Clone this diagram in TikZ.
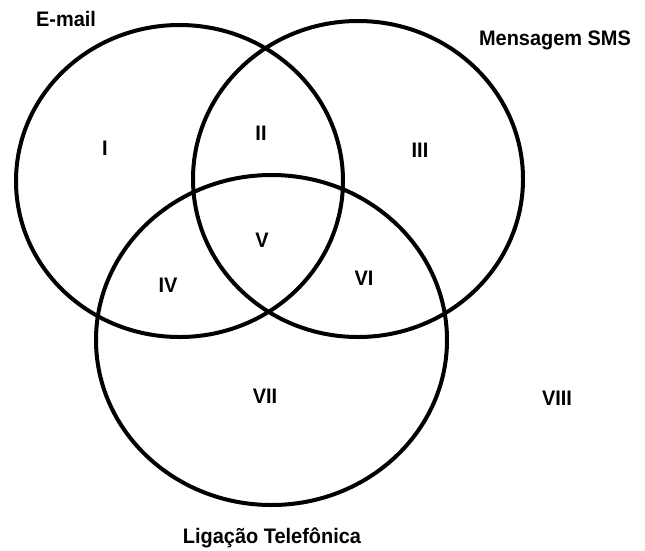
\documentclass[tikz,border=0pt]{standalone}
\usepackage{fontspec}
\setmainfont{Liberation Sans}
\newcommand{\rot}[1]{\scalebox{0.95}[1]{#1}}

\begin{document}
\begin{tikzpicture}[x=1pt,y=-1pt,
        conj/.style={draw=black, line width=4pt},
        rotulo/.style={font=\fontsize{21}{24}\selectfont\bfseries, inner sep=0pt, anchor=base}]
            \useasboundingbox (0,0) rectangle (645,550);
            \fill[white] (0,0) rectangle (645,550);

            \begin{scope}
                \draw[conj] (179.5,181) ellipse (163.5pt and 156pt);
                \draw[conj] (358,179) ellipse (165pt and 158pt);
                \draw[conj] (271.5,340) ellipse (175.5pt and 165pt);
            \end{scope}

            \node[rotulo] (email) at (66,26) {\rot{E-mail}};
            \node[rotulo] (sms) at (555,45) {\rot{Mensagem SMS}};
            \node[rotulo] (tel) at (272,543) {\rot{Ligação Telefônica}};

            \node[rotulo] (r1) at (105,155) {\rot{I}};
            \node[rotulo] (r2) at (261,140) {\rot{II}};
            \node[rotulo] (r3) at (420,157) {\rot{III}};
            \node[rotulo] (r4) at (168,292) {\rot{IV}};
            \node[rotulo] (r5) at (262,247) {\rot{V}};
            \node[rotulo] (r6) at (364,285) {\rot{VI}};
            \node[rotulo] (r7) at (265,403) {\rot{VII}};
            \node[rotulo] (r8) at (557,405) {\rot{VIII}};
        \end{tikzpicture}
\end{document}
